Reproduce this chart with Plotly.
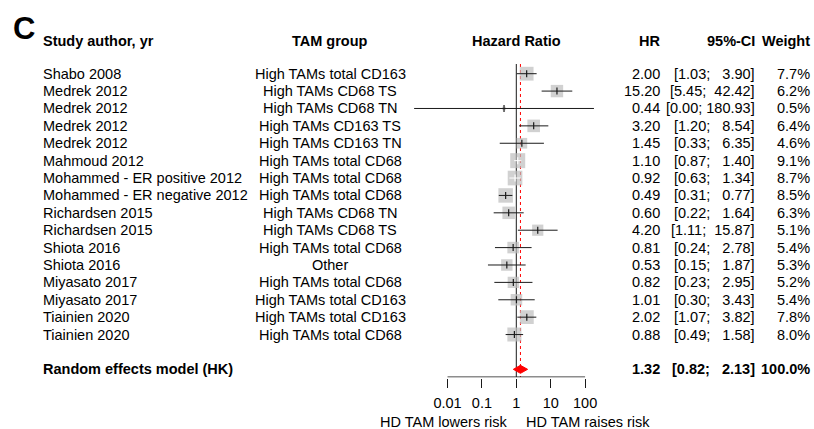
import numpy as np
import plotly.graph_objects as go

# ---------------- data ----------------
studies = ["Shabo 2008", "Medrek 2012", "Medrek 2012", "Medrek 2012", "Medrek 2012",
           "Mahmoud 2012", "Mohammed - ER positive 2012", "Mohammed - ER negative 2012",
           "Richardsen 2015", "Richardsen 2015", "Shiota 2016", "Shiota 2016",
           "Miyasato 2017", "Miyasato 2017", "Tiainien 2020", "Tiainien 2020"]
tam_groups = ["High TAMs total CD163", "High TAMs CD68 TS", "High TAMs CD68 TN",
              "High TAMs CD163 TS", "High TAMs CD163 TN", "High TAMs total CD68",
              "High TAMs total CD68", "High TAMs total CD68", "High TAMs CD68 TN",
              "High TAMs CD68 TS", "High TAMs total CD68", "Other", "High TAMs total CD68",
              "High TAMs total CD163", "High TAMs total CD163", "High TAMs total CD68"]
hr = [2.00, 15.20, 0.44, 3.20, 1.45, 1.10, 0.92, 0.49, 0.60, 4.20, 0.81, 0.53, 0.82, 1.01, 2.02, 0.88]
ci_low = [1.03, 5.45, 0.00107, 1.20, 0.33, 0.87, 0.63, 0.31, 0.22, 1.11, 0.24, 0.15, 0.23, 0.30, 1.07, 0.49]
ci_high = [3.90, 42.42, 180.93, 8.54, 6.35, 1.40, 1.34, 0.77, 1.64, 15.87, 2.78, 1.87, 2.95, 3.43, 3.82, 1.58]
weights = [7.7, 6.2, 0.5, 6.4, 4.6, 9.1, 8.7, 8.5, 6.3, 5.1, 5.4, 5.3, 5.2, 5.4, 7.8, 8.0]

pooled_label = "Random effects model (HK)"
pooled_hr = 1.32
pooled_low = 0.82
pooled_high = 2.13
pooled_weight = 100.0

tick_vals = [0.01, 0.1, 1, 10, 100]
tick_text = ["0.01", "0.1", "1", "10", "100"]
headers = ["Study author, yr", "TAM group", "Hazard Ratio", "HR", "95%-CI", "Weight"]
label_left = "HD TAM lowers risk"
label_right = "HD TAM raises risk"
panel_letter = "C"

# ---------------- geometry / style ----------------
W, H = 814, 429
PX_ONE, PX_DEC = 516.3, 34.4          # pixel of HR=1, pixels per decade
ROW0, ROWH = 73.7, 17.39              # first row centre, row pitch (px)
AXIS_PX = 377.0
FONT = "Liberation Sans, Arial, Helvetica, sans-serif"
FS = 14.5
BOX_MAX = 15.0
GREY = "#BDBDBD"
INK = "#1a1a1a"
NBSP = "\u00a0"


def ypx(p):
    return (p - ROW0) / ROWH


n = len(studies)
rows = list(range(n))
pooled_row = 17

fig = go.Figure()

# reference line at 1 and pooled dotted line (drawn first, boxes cover them)
y_top, y_bot = ypx(64), ypx(AXIS_PX)
fig.add_trace(go.Scatter(x=[1, 1], y=[y_top, y_bot], mode="lines",
                         line=dict(color=INK, width=1), hoverinfo="skip", showlegend=False))
fig.add_trace(go.Scatter(x=[pooled_hr, pooled_hr], y=[y_top, y_bot], mode="lines",
                         line=dict(color="red", width=1, dash="dot"), hoverinfo="skip", showlegend=False))

# boxes
sizes = [BOX_MAX * np.sqrt(w / max(weights)) for w in weights]
fig.add_trace(go.Scatter(x=hr, y=rows, mode="markers",
                         marker=dict(symbol="square", size=sizes, color=GREY, line=dict(width=0)),
                         hoverinfo="skip", showlegend=False))

# CI lines (white when the interval lies inside its box)
inside = [(np.log10(h) - np.log10(l)) * PX_DEC < s - 1.5 for l, h, s in zip(ci_low, ci_high, sizes)]
for colr, flag in ((INK, False), ("white", True)):
    xs, ys = [], []
    for i in rows:
        if inside[i] == flag:
            xs += [ci_low[i], ci_high[i], None]
            ys += [i, i, None]
    fig.add_trace(go.Scatter(x=xs, y=ys, mode="lines", line=dict(color=colr, width=1),
                             hoverinfo="skip", showlegend=False))

# point estimate ticks
fig.add_trace(go.Scatter(x=hr, y=rows, mode="markers",
                         marker=dict(symbol="line-ns", size=5,
                                     line=dict(width=1.2, color=["white" if f else INK for f in inside])),
                         hoverinfo="skip", showlegend=False))

# diamond
dh = 4.0 / ROWH
fig.add_trace(go.Scatter(x=[pooled_low, pooled_hr, pooled_high, pooled_hr, pooled_low],
                         y=[pooled_row, pooled_row - dh, pooled_row, pooled_row + dh, pooled_row],
                         mode="lines", fill="toself", fillcolor="red", line=dict(color="red", width=1),
                         hoverinfo="skip", showlegend=False))

# x axis line
fig.add_trace(go.Scatter(x=[tick_vals[0], tick_vals[-1]], y=[ypx(AXIS_PX)] * 2, mode="lines",
                         line=dict(color=INK, width=1), hoverinfo="skip", showlegend=False))

# ---------------- text columns ----------------
ann = []


def txt(x, y, s, anchor="left", size=FS, bold=False, yref="y"):
    ann.append(dict(x=x, y=y, xref="x2", yref=yref, text=f"<b>{s}</b>" if bold else s,
                    xanchor=anchor, yanchor="middle", showarrow=False,
                    font=dict(family=FONT, size=size, color="black")))


X_STUDY, X_GROUP, X_HR, X_CI, X_W = 41, 330, 661.7, 757, 812
hy = ypx(41)
txt(X_STUDY, hy, headers[0], bold=True)
txt(X_GROUP, hy, headers[1], "center", bold=True)
txt(PX_ONE, hy, headers[2], "center", bold=True)
txt(X_HR, hy, headers[3], "right", bold=True)
txt(X_CI, hy, headers[4], "right", bold=True)
txt(X_W, hy, headers[5], "right", bold=True)
txt(11, ypx(28), panel_letter, "left", size=31, bold=True)

low_all = ci_low + [pooled_low]
high_all = ci_high + [pooled_high]
lw = max(len(f"{v:.2f}") for v in low_all)
uw = max(len(f"{v:.2f}") for v in high_all)


def ci_str(l, h):
    ls = f"{l:.2f}".rjust(lw).replace(" ", NBSP)
    hs = f"{h:.2f}".rjust(uw).replace(" ", NBSP)
    return f"[{ls};{NBSP}{hs}]"


for i in rows:
    txt(X_STUDY, i, studies[i])
    txt(X_GROUP, i, tam_groups[i], "center")
    txt(X_HR, i, f"{hr[i]:.2f}", "right")
    txt(X_CI, i, ci_str(ci_low[i], ci_high[i]), "right")
    txt(X_W, i, f"{weights[i]:.1f}%", "right")

txt(X_STUDY, pooled_row, pooled_label, bold=True)
txt(X_HR, pooled_row, f"{pooled_hr:.2f}", "right", bold=True)
txt(X_CI, pooled_row, ci_str(pooled_low, pooled_high), "right", bold=True)
txt(X_W, pooled_row, f"{pooled_weight:.1f}%", "right", bold=True)

ann.append(dict(x=509, y=1 - 421.5 / H, xref="x2", yref="paper", text=label_left, xanchor="right",
                yanchor="middle", showarrow=False, font=dict(family=FONT, size=FS, color="black")))
ann.append(dict(x=524, y=1 - 421.5 / H, xref="x2", yref="paper", text=label_right, xanchor="left",
                yanchor="middle", showarrow=False, font=dict(family=FONT, size=FS, color="black")))

fig.update_layout(
    width=W, height=H, margin=dict(l=0, r=0, t=0, b=0),
    paper_bgcolor="white", plot_bgcolor="white", showlegend=False,
    font=dict(family=FONT, size=FS, color="black"),
    xaxis=dict(type="log", domain=[0, 1],
               range=[(0 - PX_ONE) / PX_DEC, (W - PX_ONE) / PX_DEC],
               tickvals=tick_vals, ticktext=tick_text, ticks="outside", ticklen=9,
               tickwidth=1, tickcolor=INK, showgrid=False, zeroline=False, showline=False,
               ticklabelstandoff=3,
               tickfont=dict(family=FONT, size=FS, color="black"), fixedrange=True),
    xaxis2=dict(range=[0, W], domain=[0, 1], overlaying="x", anchor="y", visible=False, fixedrange=True),
    yaxis=dict(domain=[(H - AXIS_PX - 0.5) / H, 1], range=[ypx(AXIS_PX + 0.5), ypx(0)],
               visible=False, showgrid=False, zeroline=False, fixedrange=True),
    annotations=ann,
)

fig.write_html("out.html", config={"displayModeBar": False},
               post_script="document.body.style.margin='0';")
